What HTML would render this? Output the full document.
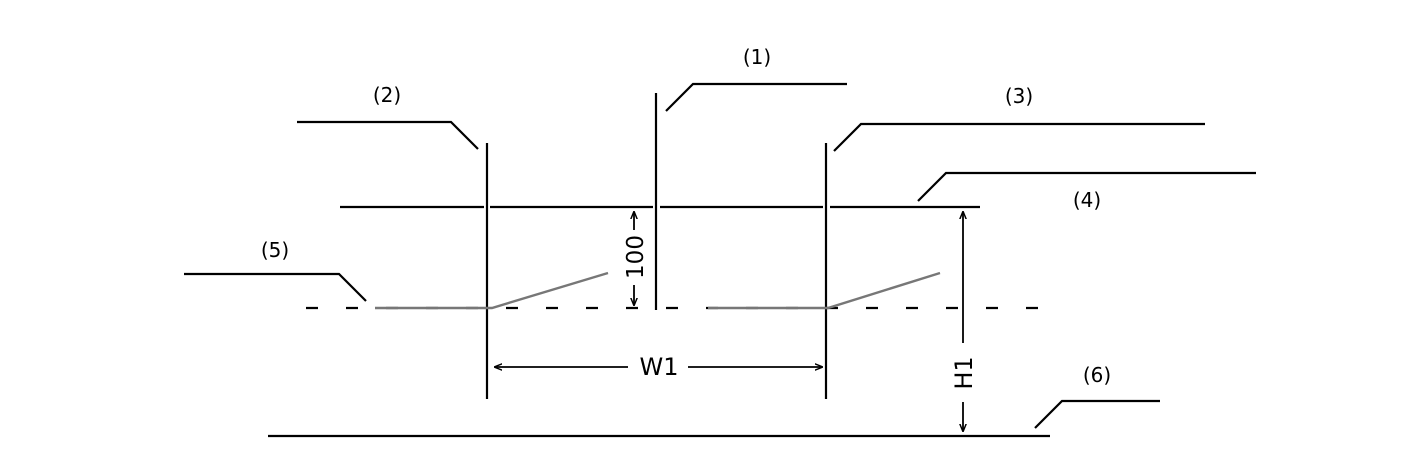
<!DOCTYPE html>
<html><head><meta charset="utf-8"><style>
html,body{margin:0;padding:0;background:#fff;}
svg{display:block}
text{font-family:"DejaVu Sans","Liberation Sans",sans-serif;fill:#000}
</style></head><body>
<svg width="1406" height="472" viewBox="0 0 1406 472" xmlns="http://www.w3.org/2000/svg">
<defs>
<marker id="a" viewBox="0 0 10 10" refX="9" refY="5" markerWidth="8" markerHeight="8" orient="auto-start-reverse" markerUnits="userSpaceOnUse"><path d="M0,1 L10,5 L0,9" fill="none" stroke="#000" stroke-width="1.8"/></marker>
</defs>
<g stroke="#000" stroke-width="2.2" fill="none">
<line x1="340" y1="207" x2="484" y2="207"/>
<line x1="490" y1="207" x2="653" y2="207"/>
<line x1="660" y1="207" x2="823" y2="207"/>
<line x1="830" y1="207" x2="980" y2="207"/>
<line x1="487" y1="143" x2="487" y2="399"/>
<line x1="656" y1="93" x2="656" y2="310"/>
<line x1="826" y1="143" x2="826" y2="399"/>
<polyline points="666,111 693,84 847,84"/>
<polyline points="297,122 451,122 478,149"/>
<polyline points="834,151 861,124 1205,124"/>
<polyline points="918,201 946,173 1256,173"/>
<polyline points="184,274 339,274 366,301"/>
<polyline points="1035,428 1062,401 1160,401"/>
<line x1="268" y1="436" x2="1050" y2="436"/>
<line x1="306" y1="308" x2="1050" y2="308" stroke-dasharray="12 28"/>
</g>
<g stroke="#777" stroke-width="2.4" fill="none">
<polyline points="375,308 492,308 608,273"/>
<polyline points="708,308 828,308 940,273"/>
</g>
<g stroke="#000" stroke-width="1.8" fill="none">
<line x1="634" y1="230" x2="634" y2="212" marker-end="url(#a)"/>
<line x1="634" y1="285" x2="634" y2="305" marker-end="url(#a)"/>
<line x1="963" y1="343" x2="963" y2="212" marker-end="url(#a)"/>
<line x1="963" y1="402" x2="963" y2="431" marker-end="url(#a)"/>
<line x1="628" y1="367" x2="495" y2="367" marker-end="url(#a)"/>
<line x1="688" y1="367" x2="822" y2="367" marker-end="url(#a)"/>
</g>
<g font-size="20" text-anchor="middle">
<text x="757" y="64">(1)</text>
<text x="387" y="102">(2)</text>
<text x="1019" y="103">(3)</text>
<text x="1087" y="207">(4)</text>
<text x="275" y="257">(5)</text>
<text x="1097" y="382">(6)</text>
<text x="659" y="375" font-size="24">W1</text>
<text transform="translate(643,257) rotate(-90)" font-size="23">100</text>
<text transform="translate(972,373) rotate(-90)" font-size="24">H1</text>
</g>
</svg>
</body></html>
